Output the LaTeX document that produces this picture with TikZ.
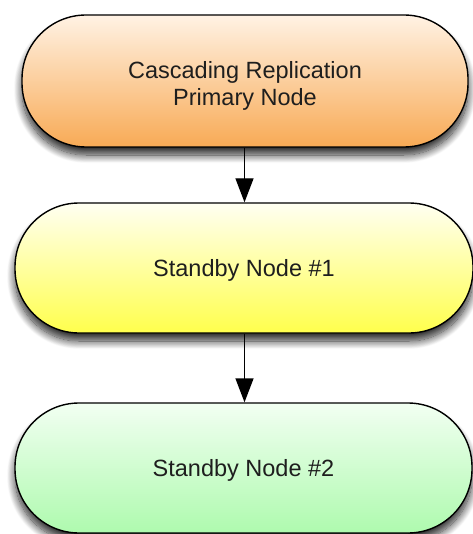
\documentclass[tikz,border=0pt]{standalone}
\usepackage{fontspec}
\setmainfont{Liberation Sans}
\usetikzlibrary{arrows.meta,shadows.blur}
\definecolor{orangetop}{HTML}{FFF2E4}
\definecolor{orangebot}{HTML}{F8AA55}
\definecolor{yellowtop}{HTML}{FFFFF2}
\definecolor{yellowbot}{HTML}{FFFF4C}
\definecolor{greentop}{HTML}{F2FFF2}
\definecolor{greenbot}{HTML}{AEFAAE}
\definecolor{txt}{HTML}{1E1E1E}
\newcommand{\shifttext}[2]{\raisebox{-#1}[\height][\depth]{\begin{tabular}{@{}c@{}}#2\end{tabular}}}
\tikzset{
  pill/.style={draw=black, line width=1.4pt, rounded corners=64pt,
    minimum height=130pt, inner sep=0pt, align=center, text=txt,
    font=\fontsize{23.5}{27}\selectfont,
    blur shadow={shadow xshift=0pt, shadow yshift=-8pt, shadow blur radius=8pt, shadow blur steps=14, shadow opacity=85}},
  conn/.style={line width=1.4pt, -{Triangle[width=18pt,length=24pt]}}
}
\begin{document}
\begin{tikzpicture}[x=1pt,y=-1pt]
\useasboundingbox (0,0) rectangle (472,534);
\node[pill, minimum width=446pt, minimum height=132pt, top color=orangetop, bottom color=orangebot] (n1) at (245,81) {\shifttext{6pt}{Cascading Replication\\Primary Node}};
\node[pill, minimum width=458pt, top color=yellowtop, bottom color=yellowbot] (n2) at (244,268) {\shifttext{3pt}{Standby Node \#1}};
\node[pill, minimum width=457pt, top color=greentop, bottom color=greenbot] (n3) at (243.5,468) {\shifttext{3pt}{Standby Node \#2}};
\draw[conn] (n1.south -| 244.5,0) -- (n2.north -| 244.5,0);
\draw[conn] (n2.south -| 244.5,0) -- (n3.north -| 244.5,0);
\end{tikzpicture}
\end{document}
